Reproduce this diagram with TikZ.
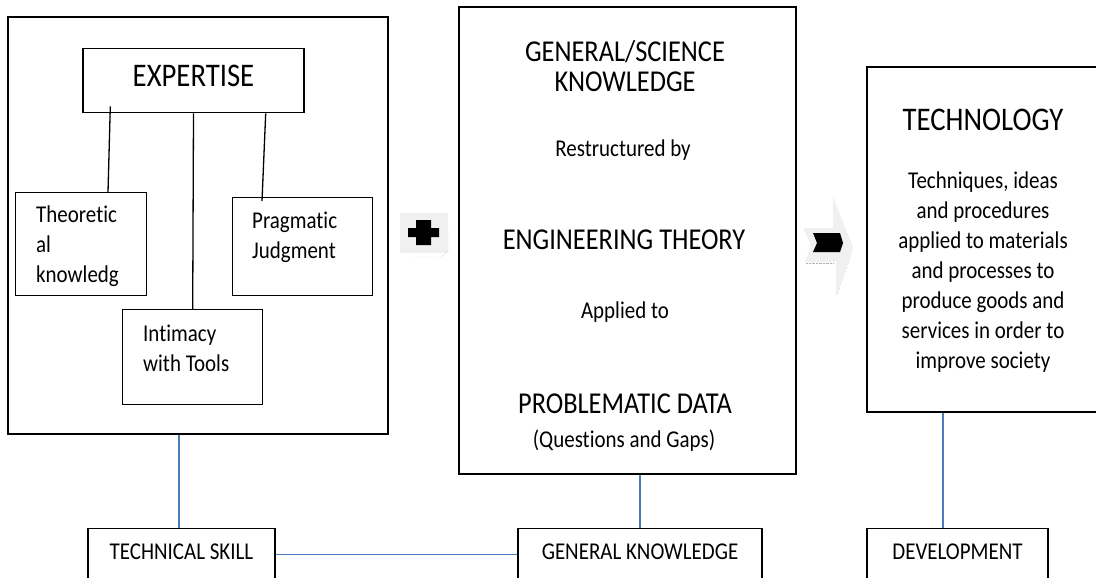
\documentclass[tikz,border=0pt]{standalone}
\usepackage{fontspec}
\setmainfont{Carlito}[FakeStretch=0.87, Ligatures=NoCommon]
\usetikzlibrary{positioning}
\definecolor{linkblue}{RGB}{74,126,187}

\begin{document}
\begin{tikzpicture}[x=1pt, y=-1pt,
    box/.style={draw=black, line width=1.4pt, inner sep=0pt},
    txt/.style={inner sep=0pt},
    small/.style={font=\fontsize{24.1}{30}\selectfont},
    mid/.style={font=\fontsize{30.3}{30}\selectfont},
    big/.style={font=\fontsize{33}{36}\selectfont},
    link/.style={draw=linkblue, line width=1.2pt},
    lowbox/.style={box, small, anchor=north, text height=31pt, text depth=49pt}]
\useasboundingbox (0,0) rectangle (1096,578);

% Technical skill: the expertise box
\node[box, minimum width=380, minimum height=417] (lbox) at (198,225.5) {};
\node[box, big, anchor=north, minimum width=221, text height=38pt, text depth=26pt] (expertise) at (193.5,48) {EXPERTISE};

\node[box, anchor=north west, minimum width=131, minimum height=103] (theo) at (15,192) {};
\node[box, anchor=north west, minimum width=140, minimum height=98] (prag) at (232,197) {};
\node[box, anchor=north west, minimum width=140, minimum height=95] (tools) at (122,309) {};

\node[txt, small, align=left, anchor=north west] (theotxt) at (36,206) {Theoretic\\al\\knowledg};
\node[txt, small, align=left, anchor=north west] (pragtxt) at (252,212) {Pragmatic\\Judgment};
\node[txt, small, align=left, anchor=north west] (toolstxt) at (143,325) {Intimacy\\with Tools};

% Connect expertise to its three parts
\draw[line width=1.3pt] ([xshift=28pt, yshift=7pt]expertise.south west) -- ([xshift=93pt]theo.north west);
\draw[line width=1.3pt] (expertise.south) -- (tools.north);
\draw[line width=1.3pt] ([xshift=-39pt]expertise.south east) -- ([xshift=30pt, yshift=-4pt]prag.north west);

% Plus sign
\fill[gray!12] (400,213) rectangle (448,253);
\draw[gray!60, densely dotted] (412,257) -- (441,257) -- (449,250) -- (449,228);
\fill[black] (416,220) -- (431,220) -- (431,228) -- (439,228) -- (439,237) -- (431,237)
    -- (431,245) -- (416,245) -- (416,237) -- (408,237) -- (408,228) -- (416,228) -- cycle;

% General knowledge box
\node[box, minimum width=337, minimum height=467] (knowbox) at (627.5,240.5) {};
\node[txt, mid, align=center, anchor=north] (gsk) at (625,40) {GENERAL/SCIENCE\\KNOWLEDGE};
\node[txt, small, anchor=base] (restr) at (623,157) {Restructured by};
\node[txt, mid, anchor=base] (engt) at (624,249) {ENGINEERING THEORY};
\node[txt, small, anchor=base] (appl) at (625,318) {Applied to};
\node[txt, mid, anchor=base] (probd) at (625,413) {PROBLEMATIC DATA};
\node[txt, small, anchor=base] (qgaps) at (624,447) {(Questions and Gaps)};

% Arrow
\fill[gray!12] (803,228) -- (833,228) -- (833,197) -- (853,247) -- (836,297) -- (836,262)
    -- (805,262) -- (811,245) -- cycle;
\draw[gray!60, densely dotted] (806,263) -- (834,263);
\draw[gray!60, densely dotted] (853,250) -- (837,295);
\fill[black] (813,233) -- (840,233) -- (843,243) -- (840,252) -- (813,252) -- (817,243) -- cycle;

% Technology box
\node[box, minimum width=232, minimum height=345] (techbox) at (983,239.5) {};
\node[txt, big, anchor=base] (techt) at (983,130) {TECHNOLOGY};
\node[txt, small, align=center, anchor=north] (techdef) at (983,172) {Techniques, ideas\\and procedures\\applied to materials\\and processes to\\produce goods and\\services in order to\\improve society};

% Bottom labels
\node[lowbox, minimum width=187] (skill) at (181.5,528) {TECHNICAL SKILL};
\node[lowbox, minimum width=244] (genk) at (640,528) {GENERAL KNOWLEDGE};
\node[lowbox, minimum width=181] (dev) at (957.5,528) {DEVELOPMENT};

% Blue links
\draw[link] ([xshift=-2.5pt]skill.north) -- ([xshift=-2.5pt]skill.north |- lbox.south);
\draw[link] (genk.north) -- (genk.north |- knowbox.south);
\draw[link] ([xshift=-14.5pt]dev.north) -- ([xshift=-14.5pt]dev.north |- techbox.south);
\draw[link] ([yshift=14pt]skill.east) -- ([yshift=14pt]genk.west);

\end{tikzpicture}
\end{document}
